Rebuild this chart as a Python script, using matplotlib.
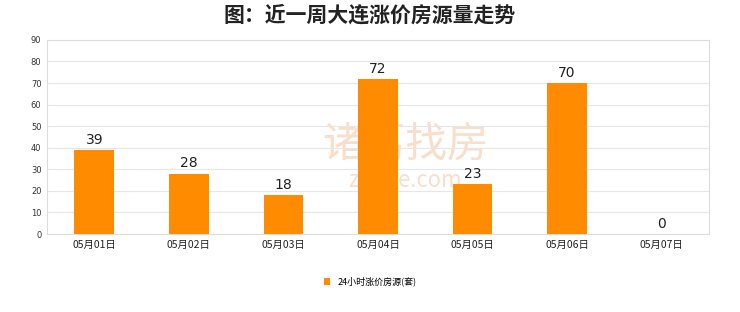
import matplotlib
matplotlib.use("Agg")
import matplotlib.pyplot as plt

plt.rcParams['font.family'] = ['Noto Sans CJK SC', 'DejaVu Sans']

categories = ["05月01日", "05月02日", "05月03日", "05月04日", "05月05日", "05月06日", "05月07日"]
values = [39, 28, 18, 72, 23, 70, 0]
series_name = "24小时涨价房源(套)"
title = "图：近一周大连涨价房源量走势"
yticks = [0, 10, 20, 30, 40, 50, 60, 70, 80, 90]

fig = plt.figure(figsize=(7.4, 3.12), dpi=100)
ax = fig.add_axes([0.0635, 0.25, 0.8945, 0.622])
x = list(range(len(categories)))
bars = ax.bar(x, values, width=0.42, color="#FF8C00", label=series_name, zorder=3)
ax.set_xlim(-0.5, len(categories) - 0.5)
ax.set_ylim(0, 90)
ax.set_yticks(yticks)
ax.set_yticklabels([str(t) for t in yticks], fontsize=6, color="#333333", family="DejaVu Sans")
ax.set_xticks(x)
ax.set_xticklabels(categories, fontsize=7.5, color="#222222")
ax.tick_params(axis='both', length=0, pad=4)
ax.grid(axis='y', color="#E6E6E6", linewidth=0.8, zorder=0)
for s in ax.spines.values():
    s.set_color("#DDDDDD")
    s.set_linewidth(0.8)
for xi, v in zip(x, values):
    ax.text(xi, v + 1.5, str(v), ha='center', va='bottom', fontsize=10, color="#222222", family="DejaVu Sans", zorder=4)

# watermark (behind bars)
ax.text(0.548, 0.535, "诸葛找房", fontsize=30, color="#F5C9A8", alpha=0.6, ha='center', va='center',
        transform=fig.transFigure, zorder=1)
ax.text(0.548, 0.423, "zhuge.com", fontsize=16, color="#F5C9A8", alpha=0.6, ha='center', va='center',
        transform=fig.transFigure, zorder=1)

fig.text(0.5, 0.952, title, fontsize=15, ha='center', va='center', color="#222222", fontweight='bold')
fig.legend(loc='center', bbox_to_anchor=(0.5, 0.097), ncol=1, frameon=False, fontsize=6.5,
           handlelength=0.7, handleheight=0.7, handletextpad=0.8)
fig.savefig("out.png", dpi=100, facecolor="white")
